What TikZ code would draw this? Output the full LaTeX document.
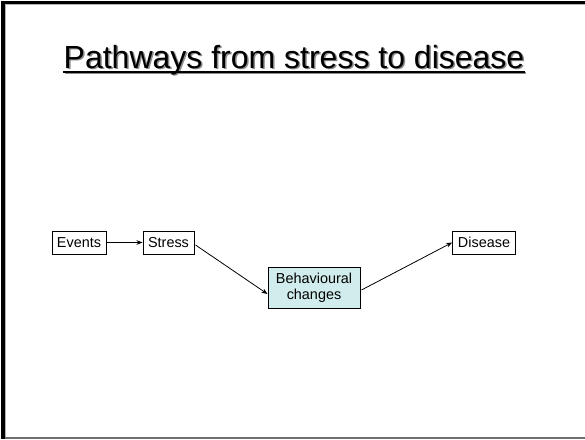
\documentclass[tikz,border=0pt]{standalone}
\usepackage{fontspec}
\setmainfont{Liberation Sans}
\usetikzlibrary{arrows.meta,calc}
\definecolor{boxfill}{RGB}{208,236,236}
\definecolor{shadowgray}{RGB}{140,140,140}
\definecolor{edgegray}{RGB}{110,110,110}
\begin{document}
\begin{tikzpicture}[x=0.75pt,y=-0.75pt,
  box/.style={draw=black, line width=0.75pt, inner sep=0pt, minimum height=17.25pt,
    font=\fontsize{10.8}{12}\selectfont, align=center},
  conn/.style={line width=0.6pt, -{Stealth[length=4.5pt,width=3.5pt]}},
  titletext/.style={inner sep=0pt, anchor=base, font=\fontsize{24}{28}\selectfont}]
\useasboundingbox (0,0) rectangle (585,439);
\fill[white] (0,0) rectangle (585,439);
% frame
\draw[edgegray, line width=1.1pt] (5,437.8) -- (585,437.8);
\draw[gray!60, line width=0.5pt] (5.6,4) -- (5.6,437);
\draw[gray!60, line width=0.5pt] (5,4.6) -- (585,4.6);
\fill[black] (1,1) rectangle (5,438.5);
\fill[black] (1,1) rectangle (585,4);
% title
\node[titletext, text=shadowgray] (titleshadow) at (295.5,69.5) {Pathways from stress to disease};
\draw[shadowgray, line width=1.5pt] ($(titleshadow.base west)+(0,3.8)$) -- ($(titleshadow.base east)+(0,3.8)$);
\node[titletext] (title) at (294,68) {Pathways from stress to disease};
\draw[black, line width=1.5pt] ($(title.base west)+(0,3.8)$) -- ($(title.base east)+(0,3.8)$);
% boxes
\node[box, minimum width=40.5pt] (events) at (79,242.5) {Events};
\node[box, minimum width=38.25pt] (stress) at (168.5,242.5) {Stress};
\node[box, fill=boxfill, minimum width=69pt, minimum height=30.75pt] (behav) at (314,287.5) {Behavioural\\changes};
\node[box, minimum width=47pt] (disease) at (484,242.5) {Disease};
% connectors
\draw[conn] (events.east) -- (stress.west);
\draw[conn] ($(stress.east)+(1,2.5)$) -- ($(behav.west)+(0,6.5)$);
\draw[conn] ($(behav.east)+(1,2.5)$) -- (disease.west);
\end{tikzpicture}
\end{document}
